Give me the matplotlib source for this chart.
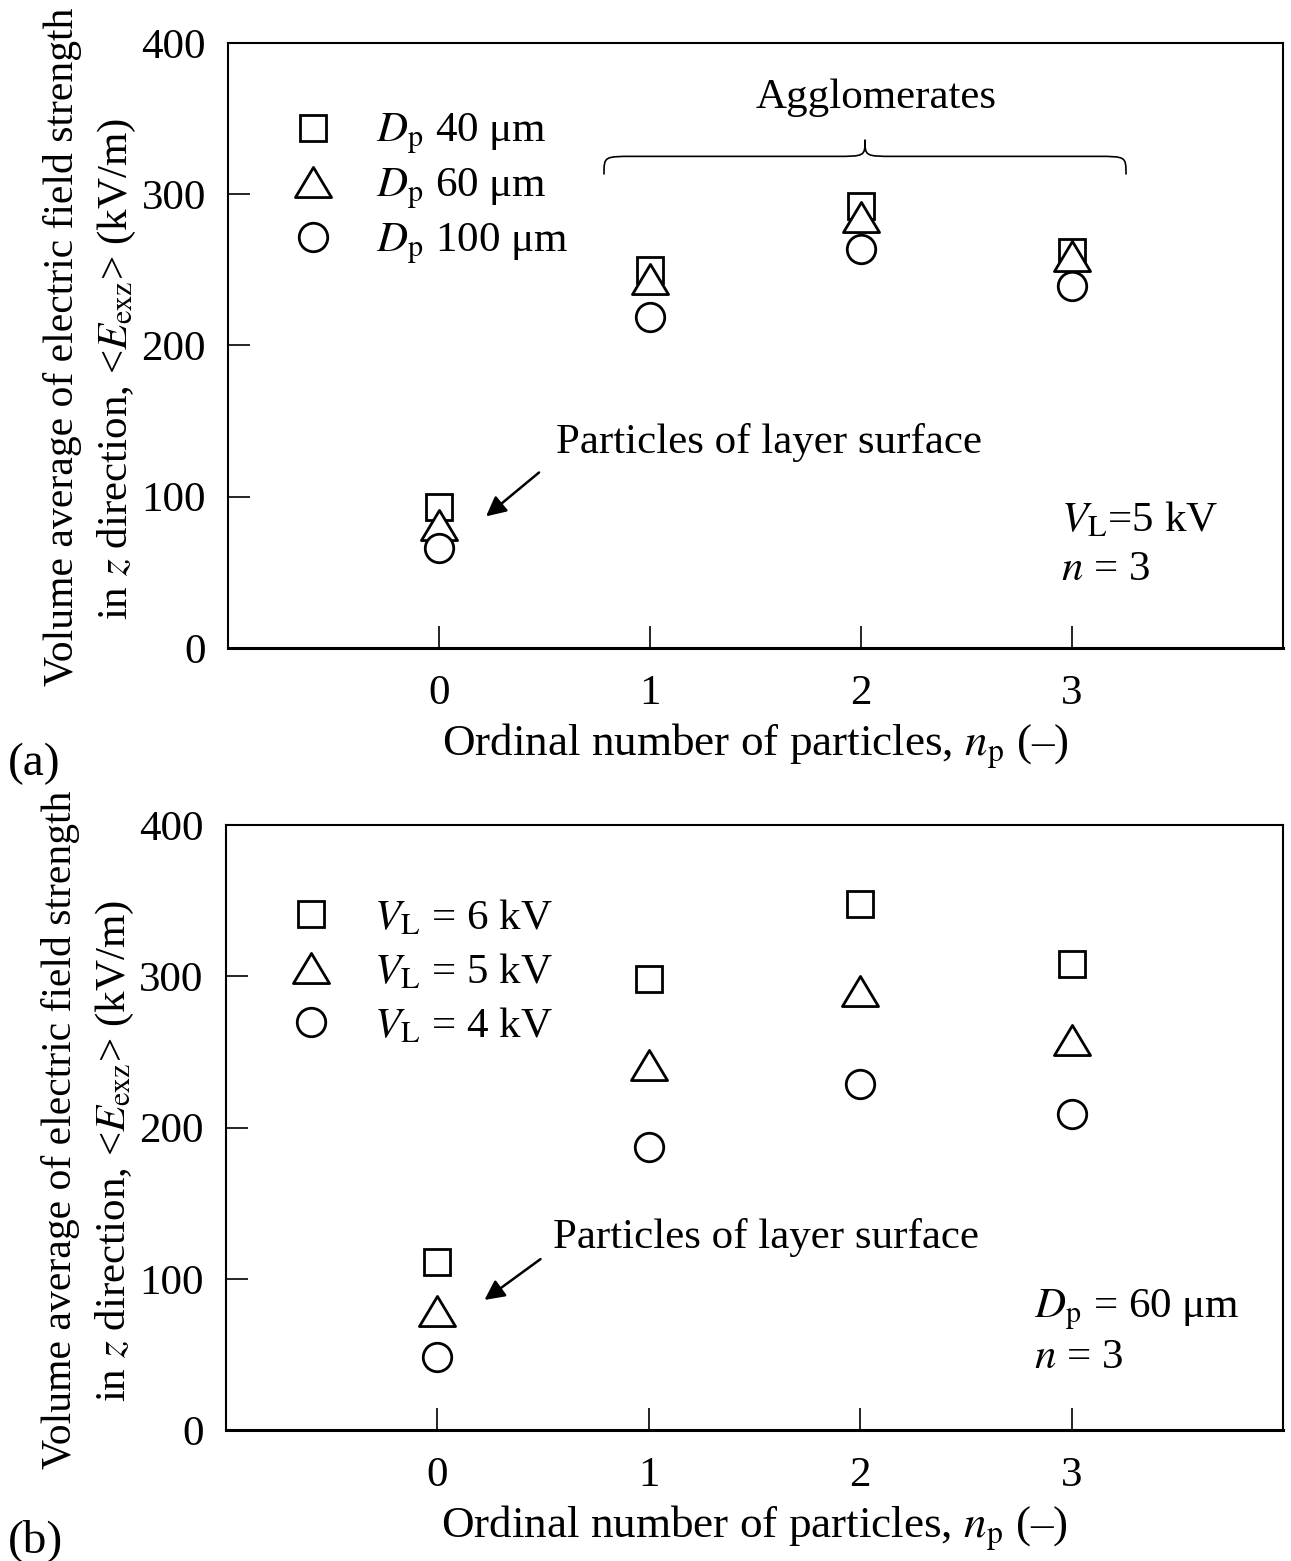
import matplotlib
matplotlib.use("Agg")
import matplotlib.pyplot as plt
from matplotlib.path import Path
from matplotlib.patches import PathPatch


plt.rcParams['font.family'] = 'serif'
plt.rcParams['font.serif'] = ['Liberation Serif', 'DejaVu Serif']
plt.rcParams['mathtext.fontset'] = 'stix'
plt.rcParams['font.size'] = 31

n_p = [0, 1, 2, 3]

# (a) V_L = 5 kV, three particle diameters
dp40 = [93, 250, 292, 262]
dp60 = [81, 244, 285, 259]
dp100 = [66, 219, 264, 239]
labels_a = [r"$D_\mathrm{p}$ 40 μm", r"$D_\mathrm{p}$ 60 μm", r"$D_\mathrm{p}$ 100 μm"]

# (b) D_p = 60 um, three voltages
vl6 = [111, 298, 348, 308]
vl5 = [79, 241, 290, 258]
vl4 = [48, 187, 229, 209]
labels_b = [r"$V_\mathrm{L}$ = 6 kV", r"$V_\mathrm{L}$ = 5 kV", r"$V_\mathrm{L}$ = 4 kV"]

ylab1 = "Volume average of electric field strength"
ylab2 = r"in $z$ direction, <$E_\mathrm{exz}$> (kV/m)"
xlab = r"Ordinal number of particles, $n_\mathrm{p}$ (–)"

# wide triangle marker
tri = Path([(0, 1), (-1.2, -1), (1.2, -1), (0, 1)],
           [Path.MOVETO, Path.LINETO, Path.LINETO, Path.CLOSEPOLY])
styles = [dict(marker='s', ms=19), dict(marker=tri, ms=26), dict(marker='o', ms=20.5)]


def setup(ax):
    ax.set_xlim(-1, 4)
    ax.set_ylim(0, 400)
    ax.set_xticks(n_p)
    ax.set_yticks([0, 100, 200, 300, 400])
    ax.tick_params(direction='in', length=16, width=1.2, top=False, right=False)
    ax.tick_params(axis='x', pad=19)
    ax.tick_params(axis='y', pad=16)
    for s in ax.spines.values():
        s.set_linewidth(1.5)
    ax.spines['bottom'].set_linewidth(2.2)
    ax.set_xlabel(xlab, labelpad=6, fontsize=32.5)
    ax.text(-0.1564, 0.497, ylab1, transform=ax.transAxes, rotation=90,
            ha='center', va='center', fontsize=30)
    ax.text(-0.1052, 0.461, ylab2, transform=ax.transAxes, rotation=90,
            ha='center', va='center')


def scatter(ax, series, labels, anchor, spacing):
    hs = []
    for ys, st, lab in zip(series, styles, labels):
        h, = ax.plot(n_p, ys, ls='none', mfc='white', mec='black', mew=2,
                     label=lab, **st)
        hs.append(h)
    ax.legend(handles=hs, loc='upper left', bbox_to_anchor=anchor,
              frameon=False, handlelength=1.0, handletextpad=0.96,
              labelspacing=spacing, borderpad=0, borderaxespad=0)


def brace(ax, x0, x1, y_end, y_line, y_peak, dx):
    xm = (x0 + x1) / 2
    verts = [(x0, y_end), (x0, y_line), (x0, y_line), (x0 + dx, y_line),
             (xm - dx, y_line),
             (xm, y_line), (xm, y_line), (xm, y_peak),
             (xm, y_line), (xm, y_line), (xm + dx, y_line),
             (x1 - dx, y_line),
             (x1, y_line), (x1, y_line), (x1, y_end)]
    codes = [Path.MOVETO, Path.CURVE4, Path.CURVE4, Path.CURVE4,
             Path.LINETO,
             Path.CURVE4, Path.CURVE4, Path.CURVE4,
             Path.CURVE4, Path.CURVE4, Path.CURVE4,
             Path.LINETO,
             Path.CURVE4, Path.CURVE4, Path.CURVE4]
    ax.add_patch(PathPatch(Path(verts, codes), fc='none', ec='black', lw=1.2))


fig = plt.figure(figsize=(12.91, 15.61), dpi=100)
ax1 = fig.add_axes([0.1766, 0.5849, 0.8172, 0.3876])
ax2 = fig.add_axes([0.1750, 0.0839, 0.8188, 0.3876])

# panel (a)
setup(ax1)
scatter(ax1, [dp40, dp60, dp100], labels_a, (0.06, 0.886), 0.22)
ax1.text(2.07, 364, "Agglomerates", ha='center', va='center')
brace(ax1, 0.782, 3.256, 313, 325, 336, 0.14)
ax1.text(0.555, 136, "Particles of layer surface", ha='left', va='center')
ax1.annotate("", xy=(0.223, 87), xytext=(0.474, 116),
             arrowprops=dict(arrowstyle='-|>', color='black', lw=1.8,
                             mutation_scale=30, shrinkA=0, shrinkB=0))
ax1.text(2.95, 84, r"$V_\mathrm{L}$=5 kV", ha='left', va='center')
ax1.text(2.95, 52, r"$n$ = 3", ha='left', va='center')

# panel (b)
setup(ax2)
scatter(ax2, [vl6, vl5, vl4], labels_b, (0.06, 0.878), 0.33)
ax2.text(0.545, 127, "Particles of layer surface", ha='left', va='center')
ax2.annotate("", xy=(0.223, 86), xytext=(0.488, 113),
             arrowprops=dict(arrowstyle='-|>', color='black', lw=1.8,
                             mutation_scale=30, shrinkA=0, shrinkB=0))
ax2.text(2.82, 79, r"$D_\mathrm{p}$ = 60 μm", ha='left', va='center')
ax2.text(2.82, 48, r"$n$ = 3", ha='left', va='center')

fig.text(0.006, 0.511, "(a)", ha='left', va='center', fontsize=34)
fig.text(0.006, 0.013, "(b)", ha='left', va='center', fontsize=34)

fig.savefig("out.png", dpi=100)
